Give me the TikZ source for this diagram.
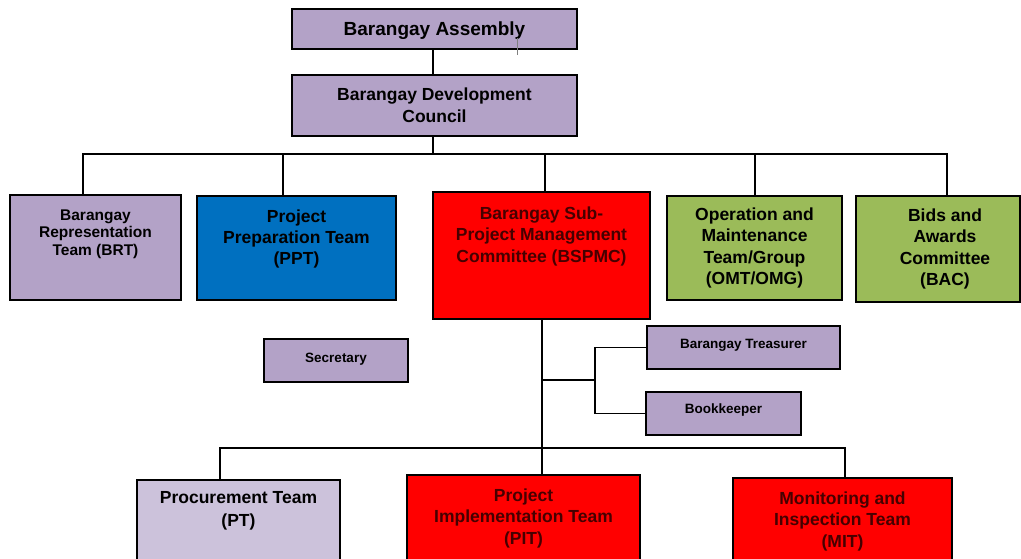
\documentclass[tikz,border=0pt]{standalone}
\usepackage{fontspec}
\setmainfont{Liberation Sans}
\definecolor{lav}{RGB}{179,162,199}
\definecolor{lavlight}{RGB}{204,194,219}
\definecolor{teamblue}{RGB}{0,112,192}
\definecolor{teamred}{RGB}{255,0,0}
\definecolor{teamgreen}{RGB}{155,187,89}
\definecolor{redtext}{RGB}{70,0,0}
\begin{document}
\begin{tikzpicture}[x=1pt,y=-1pt,
  box/.style={draw=black, line width=1.8pt, inner sep=0pt, outer sep=0pt, anchor=north west},
  lbl/.style={align=center, font=\bfseries, text=black, inner sep=0pt},
  wire/.style={draw=black, line width=2pt},
  thinwire/.style={draw=black, line width=1.6pt}]
\clip (0,0) rectangle (1021,558);
\fill[white] (0,0) rectangle (1021,558);

% boxes
\node[box, fill=lav, minimum width=285pt, minimum height=40pt] (ba) at (292,9) {};
\node[box, fill=lav, minimum width=285pt, minimum height=61pt] (bdc) at (292,75) {};
\node[box, fill=lav, minimum width=171pt, minimum height=105pt] (brt) at (10,195) {};
\node[box, fill=teamblue, minimum width=199pt, minimum height=104pt] (ppt) at (197,196) {};
\node[box, fill=teamred, minimum width=217pt, minimum height=127pt] (bspmc) at (433,192) {};
\node[box, fill=teamgreen, minimum width=175pt, minimum height=104pt] (omt) at (667,196) {};
\node[box, fill=teamgreen, minimum width=164pt, minimum height=106pt] (bac) at (856,196) {};
\node[box, fill=lav, minimum width=144pt, minimum height=43pt] (sec) at (264,339) {};
\node[box, fill=lav, minimum width=193pt, minimum height=43pt] (treas) at (647,326) {};
\node[box, fill=lav, minimum width=155pt, minimum height=43pt] (book) at (646,392) {};
\node[box, fill=lavlight, minimum width=203pt, minimum height=100pt] (pt) at (137,480) {};
\node[box, fill=teamred, minimum width=233pt, minimum height=100pt] (pit) at (407,475) {};
\node[box, fill=teamred, minimum width=219pt, minimum height=100pt] (mit) at (733,478) {};

% labels
\node[lbl, font=\bfseries\fontsize{19}{22}\selectfont] (ba-t) at (434.5,31) {Barangay Assembly};
\node[lbl, font=\bfseries\fontsize{17.5}{22.5}\selectfont] (bdc-t) at (434.5,105) {Barangay Development\\Council};
\node[lbl, font=\bfseries\fontsize{15.5}{17.5}\selectfont] (brt-t) at (95.5,234) {Barangay\\Representation\\Team (BRT)};
\node[lbl, font=\bfseries\fontsize{17.5}{21}\selectfont] (ppt-t) at (296.5,239) {Project\\Preparation Team\\(PPT)};
\node[lbl, text=redtext, font=\bfseries\fontsize{17.5}{21.5}\selectfont] (bspmc-t) at (541.5,236) {Barangay Sub-\\Project Management\\Committee (BSPMC)};
\node[lbl, font=\bfseries\fontsize{17.5}{21.5}\selectfont] (omt-t) at (754.5,248) {Operation and\\Maintenance\\Team/Group\\(OMT/OMG)};
\node[lbl, font=\bfseries\fontsize{17.5}{21.5}\selectfont] (bac-t) at (945,249) {Bids and\\Awards\\Committee\\(BAC)};
\node[lbl, font=\bfseries\fontsize{13.5}{16}\selectfont] (sec-t) at (336,359) {Secretary};
\node[lbl, font=\bfseries\fontsize{13.5}{16}\selectfont] (treas-t) at (743.5,345) {Barangay Treasurer};
\node[lbl, font=\bfseries\fontsize{13.5}{16}\selectfont] (book-t) at (723.5,410) {Bookkeeper};
\node[lbl, font=\bfseries\fontsize{17.5}{23}\selectfont] (pt-t) at (238.5,511) {Procurement Team\\(PT)};
\node[lbl, text=redtext, font=\bfseries\fontsize{17.5}{21.5}\selectfont] (pit-t) at (523.5,518) {Project\\Implementation Team\\(PIT)};
\node[lbl, text=redtext, font=\bfseries\fontsize{17.5}{21.5}\selectfont] (mit-t) at (842.5,521) {Monitoring and\\Inspection Team\\(MIT)};

% upper hierarchy
\coordinate (bus) at ([xshift=-1.5pt]bdc.south |- 0,154);
\draw[wire] ([xshift=-1.5pt]ba.south) -- ([xshift=-1.5pt]bdc.north);
\draw[wire] ([xshift=-1.5pt]bdc.south) -- (bus);
\draw[wire] (bus) -| ([xshift=-12.5pt]brt.north);
\draw[wire] (bus) -| ([xshift=-13.5pt]ppt.north);
\draw[wire] (bus) -| ([xshift=3.5pt]bspmc.north);
\draw[wire] (bus) -| ([xshift=0.5pt]omt.north);
\draw[wire] (bus) -| ([xshift=8.5pt]bac.north);

% committee branch
\coordinate (bus2) at ([xshift=0.5pt]bspmc.south |- 0,448);
\coordinate (br) at ([xshift=0.5pt]bspmc.south |- 0,380);
\coordinate (brx) at (595,380);
\draw[wire] ([xshift=0.5pt]bspmc.south) -- (bus2);
\draw[thinwire] (br) -- (brx);
\draw[thinwire] (brx) |- (treas.west);
\draw[thinwire] (brx) |- (book.west);
\draw[wire] (bus2) -| ([xshift=-18.5pt]pt.north);
\draw[wire] (bus2) -| ([xshift=18.5pt]pit.north);
\draw[wire] (bus2) -| ([xshift=2.5pt]mit.north);

% small stray stroke below the assembly title
\draw[gray, line width=0.7pt] (517,38) -- (517,55);
\end{tikzpicture}
\end{document}
